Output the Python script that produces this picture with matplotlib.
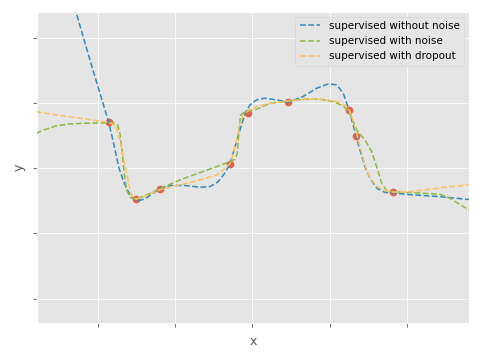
import matplotlib
matplotlib.use("Agg")
import matplotlib.pyplot as plt

plt.style.use("ggplot")

# observed points
pts_x = [-1.859, -1.506, -1.191, -0.289, -0.052, 0.466, 1.256, 1.346, 1.821]
pts_y = [0.710, -0.475, -0.314, 0.066, 0.844, 1.012, 0.890, 0.491, -0.368]

# supervised without noise
blue_x = [-2.41, -2.282, -2.075, -1.859, -1.790, -1.726, -1.648, -1.570, -1.493, -1.389,
          -1.298, -1.197, -1.065, -0.871, -0.677, -0.548, -0.444, -0.353, -0.289, -0.224,
          -0.159, -0.094, -0.030, 0.057, 0.164, 0.316, 0.466, 0.656, 0.834, 0.984,
          1.093, 1.178, 1.252, 1.329, 1.394, 1.459, 1.524, 1.614, 1.718, 1.821,
          2.041, 2.300, 2.469, 2.805]
blue_y = [2.90, 2.397, 1.554, 0.710, 0.357, 0.005, -0.256, -0.440, -0.502, -0.471,
          -0.394, -0.317, -0.264, -0.264, -0.291, -0.282, -0.210, -0.072, 0.066, 0.327,
          0.587, 0.833, 0.971, 1.048, 1.074, 1.048, 1.012, 1.098, 1.227, 1.293,
          1.278, 1.150, 0.894, 0.561, 0.281, 0.025, -0.153, -0.307, -0.371, -0.379,
          -0.405, -0.425, -0.440, -0.479]

# supervised with noise
green_x = [-2.800, -2.671, -2.541, -2.369, -2.153, -1.937, -1.807, -1.742, -1.713, -1.687,
           -1.657, -1.626, -1.583, -1.515, -1.376, -1.204, -0.936, -0.677, -0.461, -0.289,
           -0.224, -0.194, -0.181, -0.168, -0.150, -0.094, 0.057, 0.229, 0.401, 0.660,
           0.876, 1.049, 1.178, 1.265, 1.351, 1.459, 1.546, 1.610, 1.675, 1.740,
           1.821, 1.951, 2.210, 2.430, 2.559, 2.663, 2.805]
green_y = [0.537, 0.598, 0.649, 0.679, 0.690, 0.695, 0.699, 0.664, 0.537, 0.281,
           -0.077, -0.333, -0.445, -0.475, -0.414, -0.317, -0.179, -0.067, 0.025, 0.101,
           0.138, 0.230, 0.434, 0.638, 0.817, 0.868, 0.905, 0.997, 1.021, 1.058,
           1.058, 1.021, 0.956, 0.844, 0.587, 0.434, 0.255, 0.025, -0.230, -0.344,
           -0.359, -0.368, -0.383, -0.399, -0.460, -0.537, -0.640]

# supervised with dropout
orange_x = [-2.800, -2.541, -2.282, -2.023, -1.859, -1.764, -1.713, -1.670, -1.626, -1.583,
            -1.548, -1.506, -1.376, -1.208, -0.936, -0.677, -0.461, -0.353, -0.289, -0.250,
            -0.202, -0.159, -0.117, -0.052, 0.057, 0.229, 0.462, 0.704, 0.915, 1.093,
            1.200, 1.265, 1.329, 1.381, 1.459, 1.524, 1.627, 1.783, 2.041, 2.300,
            2.559, 2.805]
orange_y = [0.868, 0.817, 0.776, 0.730, 0.706, 0.649, 0.434, 0.178, -0.072, -0.333,
            -0.436, -0.475, -0.425, -0.333, -0.256, -0.179, -0.103, 0.000, 0.066, 0.204,
            0.434, 0.695, 0.817, 0.883, 0.945, 0.997, 1.032, 1.058, 1.058, 1.021,
            0.971, 0.868, 0.638, 0.388, 0.051, -0.153, -0.291, -0.368, -0.359, -0.322,
            -0.282, -0.256]

fig = plt.figure(figsize=(6.4, 4.8), dpi=75)
ax = fig.add_axes([0.0765, 0.102, 0.9005, 0.8655])

ax.scatter(pts_x, pts_y, s=55, color="#E24A33", alpha=0.85, zorder=2, linewidths=0)
ax.plot(blue_x, blue_y, "--", color="#348ABD", lw=1.5, label="supervised without noise", zorder=3)
ax.plot(green_x, green_y, "--", color="#8EBA42", lw=1.5, label="supervised with noise", zorder=3)
ax.plot(orange_x, orange_y, "--", color="#FBC15E", lw=1.5, label="supervised with dropout", zorder=3)

ax.set_xlim(-2.79, 2.805)
ax.set_ylim(-2.377, 2.40)
ax.set_xticks([-2, -1, 0, 1, 2])
ax.set_yticks([-2, -1, 0, 1, 2])
ax.set_xticklabels([])
ax.set_yticklabels([])
ax.set_xlabel("x")
ax.set_ylabel("y")
ax.legend(loc="upper right")

fig.savefig("out.png", dpi=75)
